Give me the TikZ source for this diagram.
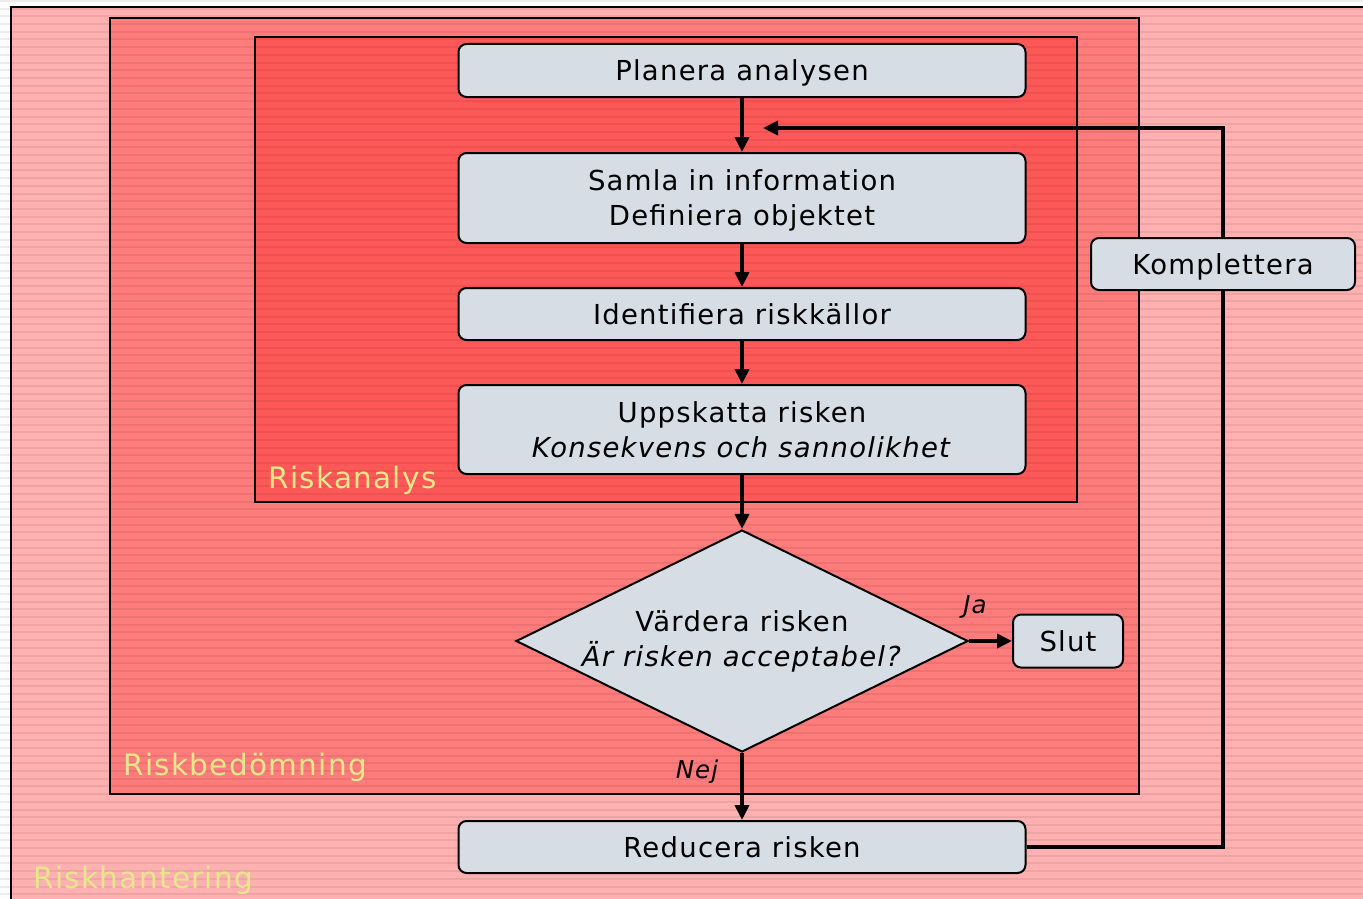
\documentclass[tikz,border=0pt]{standalone}
\usepackage{fontspec}
\setmainfont{DejaVu Sans}[LetterSpace=4.5]
\usetikzlibrary{arrows.meta,shapes.geometric}
\definecolor{zoneA}{HTML}{FFB1B1}
\definecolor{zoneB}{HTML}{FF7C7C}
\definecolor{zoneC}{HTML}{FF5858}
\definecolor{boxfill}{HTML}{D7DDE5}
\definecolor{zonetext}{HTML}{E6E68A}
\pgfdeclarelayer{back}
\pgfdeclarelayer{mid}
\pgfsetlayers{back,mid,main}
\begin{document}
\begin{tikzpicture}[x=1pt,y=-1pt,
  stepbox/.style={draw=black, line width=2pt, fill=boxfill, rounded corners=8pt, inner sep=0pt,
    minimum width=567pt, align=center, text depth=0pt, font=\fontsize{27.5}{35}\selectfont},
  decision/.style={draw=black, line width=2pt, fill=boxfill, diamond, inner sep=0pt},
  diatext/.style={align=center, inner sep=0pt, font=\fontsize{27.5}{35}\selectfont},
  zone/.style={draw=black, line width=2.2pt},
  zonelabel/.style={text=zonetext, anchor=base west, inner sep=0pt, font=\fontsize{29.5}{30}\selectfont},
  flow/.style={line width=3.8pt, -{Triangle[length=15pt,width=14pt]}},
  branch/.style={inner sep=0pt, font=\fontsize{24.5}{25}\selectfont\itshape},
  stripe/.style={line width=2pt, black, opacity=0.07}]
\useasboundingbox (0,0) rectangle (1363,899);
\clip (0,0) rectangle (1363,899);
\begin{pgfonlayer}{back}
  \fill[white] (0,0) rectangle (1363,899);
  \filldraw[zone, fill=zoneA] (11,7) rectangle (1380,915);
  \filldraw[zone, fill=zoneB] (110,18) rectangle (1139,794);
  \filldraw[zone, fill=zoneC] (255,37) rectangle (1077,502);
  \foreach \yy in {1,8.7,...,899} \draw[stripe] (0,\yy) -- (1363,\yy);
  \node[zonelabel] (lanalys) at (268,488) {Riskanalys};
  \node[zonelabel] (lbedom) at (123,775) {Riskbedömning};
  \node[zonelabel] (lhant) at (33,888) {Riskhantering};
\end{pgfonlayer}

\node[stepbox, minimum height=53pt] (plan) at (742,70.5) {Planera analysen};
\node[stepbox, minimum height=90pt] (samla) at (742,198) {Samla in information\\Definiera objektet};
\node[stepbox, minimum height=52pt] (ident) at (742,314) {Identifiera riskkällor};
\node[stepbox, minimum height=89pt] (upps) at (742,429.5) {Uppskatta risken\\\textit{Konsekvens och sannolikhet}};
\node[decision, minimum width=452pt, minimum height=222pt,
  label={[diatext]center:{Värdera risken\\\textit{Är risken acceptabel?}}}] (dia) at (742,641) {};
\node[stepbox, minimum width=110pt, minimum height=53pt] (slut) at (1068,641) {Slut};
\node[stepbox, minimum height=52pt] (red) at (742,847) {Reducera risken};
\node[stepbox, minimum width=264pt, minimum height=52pt] (komp) at (1223,264) {Komplettera};

\coordinate (fb) at (763,128);
\begin{pgfonlayer}{mid}
  \draw[flow] (red.east) -| (komp.center) |- (fb);
\end{pgfonlayer}

\draw[flow] (plan) -- (samla);
\draw[flow] (samla) -- (ident);
\draw[flow] (ident) -- (upps);
\draw[flow] (upps) -- (dia);
\draw[flow] (dia) -- (slut);
\draw[flow] (dia) -- (red);

\node[branch] (ja) at (975,607) {Ja};
\node[branch] (nej) at (697,772) {Nej};
\end{tikzpicture}
\end{document}
